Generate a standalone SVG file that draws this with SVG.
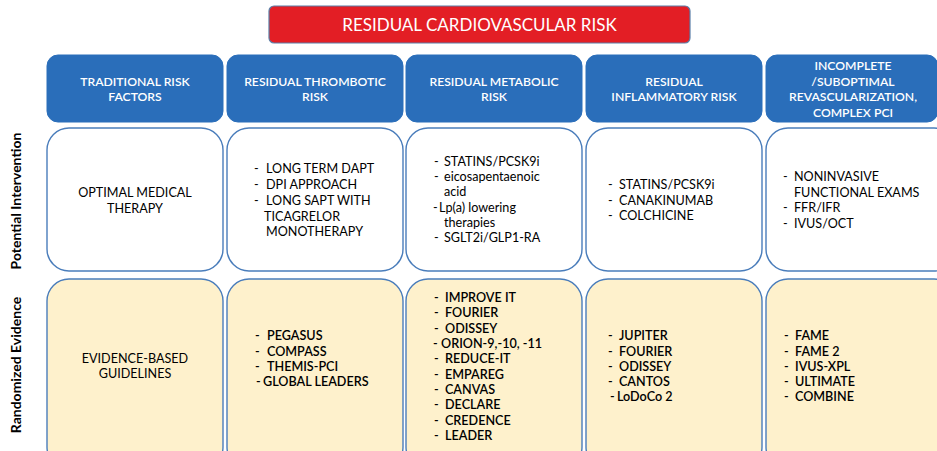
<svg xmlns="http://www.w3.org/2000/svg" width="937" height="451" viewBox="0 0 937 451">
<style>
.title{fill:#E31E25;stroke:#5A7FA8;stroke-width:1.2}
.hdr{fill:#2A6EBA;stroke:#2A6EBA;stroke-width:1}
.iv{fill:#FFFFFF;stroke:#4A7DBB;stroke-width:1.4}
.ev{fill:#FEF1CC;stroke:#4A7DBB;stroke-width:1.4}
text{font-family:Lato,"Open Sans","Liberation Sans",sans-serif}
.tt{fill:#FFFFFF;font-size:17px;text-anchor:middle}
.ht{fill:#FFFFFF;font-size:12.2px;font-weight:600;text-anchor:middle}
.bt{fill:#000000;font-size:12.6px}
.bc{fill:#000000;font-size:12.6px;text-anchor:middle}
.eb{fill:#000000;font-size:12.6px;font-weight:600}
.side{fill:#000000;font-size:14px;font-weight:700;text-anchor:middle}
</style>
<rect width="937" height="451" fill="#FFFFFF"/>
<g id="title"><rect class="title" x="269" y="6" width="421" height="37" rx="5"/><text class="tt" x="479.5" y="31">RESIDUAL CARDIOVASCULAR RISK</text></g>
<g id="side-labels">
<text class="side" transform="translate(21,201) rotate(-90)">Potential Intervention</text>
<text class="side" transform="translate(21,365) rotate(-90)">Randomized Evidence</text>
</g>
<g id="h1"><rect class="hdr" x="47" y="55" width="176" height="67" rx="11"/><text class="ht"><tspan x="135" y="86">TRADITIONAL RISK</tspan><tspan x="135" y="101">FACTORS</tspan></text></g>
<g id="h2"><rect class="hdr" x="227" y="55" width="176" height="67" rx="11"/><text class="ht"><tspan x="315" y="86">RESIDUAL THROMBOTIC</tspan><tspan x="315" y="101">RISK</tspan></text></g>
<g id="h3"><rect class="hdr" x="406" y="55" width="176" height="67" rx="11"/><text class="ht"><tspan x="494" y="86">RESIDUAL METABOLIC</tspan><tspan x="494" y="101">RISK</tspan></text></g>
<g id="h4"><rect class="hdr" x="586" y="55" width="176" height="67" rx="11"/><text class="ht"><tspan x="674" y="86">RESIDUAL</tspan><tspan x="674" y="101">INFLAMMATORY RISK</tspan></text></g>
<g id="h5"><rect class="hdr" x="766" y="55" width="172" height="67" rx="11"/><text class="ht"><tspan x="853" y="70">INCOMPLETE</tspan><tspan x="853" y="86">/SUBOPTIMAL</tspan><tspan x="853" y="101">REVASCULARIZATION,</tspan><tspan x="853" y="117">COMPLEX PCI</tspan></text></g>

<g id="i1"><rect class="iv" x="47" y="128" width="176" height="143" rx="22"/><text class="bc"><tspan x="135" y="197">OPTIMAL MEDICAL</tspan><tspan x="135" y="213">THERAPY</tspan></text></g>
<g id="i2"><rect class="iv" x="227" y="128" width="176" height="143" rx="22"/><text class="bt"><tspan x="254" y="173">-</tspan><tspan x="266" y="173">LONG TERM DAPT</tspan><tspan x="254" y="189">-</tspan><tspan x="266" y="189">DPI APPROACH</tspan><tspan x="254" y="205">-</tspan><tspan x="266" y="205">LONG SAPT WITH</tspan><tspan x="264" y="221">TICAGRELOR</tspan><tspan x="266" y="236">MONOTHERAPY</tspan></text></g>
<g id="i3"><rect class="iv" x="406" y="128" width="176" height="143" rx="22"/><text class="bt"><tspan x="434" y="166">-</tspan><tspan x="444" y="166">STATINS/PCSK9i</tspan><tspan x="434" y="181">-</tspan><tspan x="444" y="181">eicosapentaenoic</tspan><tspan x="444" y="196">acid</tspan><tspan x="433" y="212">-</tspan><tspan x="439" y="212">Lp(a) lowering</tspan><tspan x="444" y="227">therapies</tspan><tspan x="434" y="242">-</tspan><tspan x="444" y="242">SGLT2i/GLP1-RA</tspan></text></g>
<g id="i4"><rect class="iv" x="586" y="128" width="176" height="143" rx="22"/><text class="bt"><tspan x="608" y="189">-</tspan><tspan x="619" y="189">STATINS/PCSK9i</tspan><tspan x="608" y="205">-</tspan><tspan x="619" y="205">CANAKINUMAB</tspan><tspan x="608" y="220">-</tspan><tspan x="619" y="220">COLCHICINE</tspan></text></g>
<g id="i5"><rect class="iv" x="766" y="128" width="190" height="143" rx="22"/><text class="bt"><tspan x="783" y="181">-</tspan><tspan x="794" y="181">NONINVASIVE</tspan><tspan x="794" y="197">FUNCTIONAL EXAMS</tspan><tspan x="783" y="212">-</tspan><tspan x="794" y="212">FFR/IFR</tspan><tspan x="783" y="228">-</tspan><tspan x="794" y="228">IVUS/OCT</tspan></text></g>

<g id="e1"><rect class="ev" x="47" y="279" width="176" height="190" rx="22"/><text class="bc"><tspan x="135" y="363">EVIDENCE-BASED</tspan><tspan x="135" y="378">GUIDELINES</tspan></text></g>
<g id="e2"><rect class="ev" x="227" y="279" width="176" height="190" rx="22"/><text class="eb"><tspan x="255" y="340">-</tspan><tspan x="267" y="340">PEGASUS</tspan><tspan x="255" y="356">-</tspan><tspan x="267" y="356">COMPASS</tspan><tspan x="255" y="371">-</tspan><tspan x="267" y="371">THEMIS-PCI</tspan><tspan x="256" y="386">-</tspan><tspan x="263" y="386">GLOBAL LEADERS</tspan></text></g>
<g id="e3"><rect class="ev" x="406" y="279" width="176" height="190" rx="22"/><text class="eb"><tspan x="434" y="302">-</tspan><tspan x="445" y="302">IMPROVE IT</tspan><tspan x="434" y="317">-</tspan><tspan x="445" y="317">FOURIER</tspan><tspan x="434" y="333">-</tspan><tspan x="445" y="333">ODISSEY</tspan><tspan x="433" y="348">-</tspan><tspan x="441" y="348">ORION-9,-10, -11</tspan><tspan x="434" y="363">-</tspan><tspan x="445" y="363">REDUCE-IT</tspan><tspan x="434" y="379">-</tspan><tspan x="445" y="379">EMPAREG</tspan><tspan x="434" y="394">-</tspan><tspan x="445" y="394">CANVAS</tspan><tspan x="434" y="409">-</tspan><tspan x="445" y="409">DECLARE</tspan><tspan x="434" y="425">-</tspan><tspan x="445" y="425">CREDENCE</tspan><tspan x="434" y="440">-</tspan><tspan x="445" y="440">LEADER</tspan></text></g>
<g id="e4"><rect class="ev" x="586" y="279" width="176" height="190" rx="22"/><text class="eb"><tspan x="608" y="340">-</tspan><tspan x="619" y="340">JUPITER</tspan><tspan x="608" y="356">-</tspan><tspan x="619" y="356">FOURIER</tspan><tspan x="608" y="371">-</tspan><tspan x="619" y="371">ODISSEY</tspan><tspan x="608" y="386">-</tspan><tspan x="619" y="386">CANTOS</tspan><tspan x="610" y="401">-</tspan><tspan x="617" y="401">LoDoCo 2</tspan></text></g>
<g id="e5"><rect class="ev" x="766" y="279" width="190" height="190" rx="22"/><text class="eb"><tspan x="784" y="340">-</tspan><tspan x="795" y="340">FAME</tspan><tspan x="784" y="356">-</tspan><tspan x="795" y="356">FAME 2</tspan><tspan x="784" y="371">-</tspan><tspan x="795" y="371">IVUS-XPL</tspan><tspan x="784" y="386">-</tspan><tspan x="795" y="386">ULTIMATE</tspan><tspan x="784" y="401">-</tspan><tspan x="795" y="401">COMBINE</tspan></text></g>
<g id="connectors"></g>
</svg>
